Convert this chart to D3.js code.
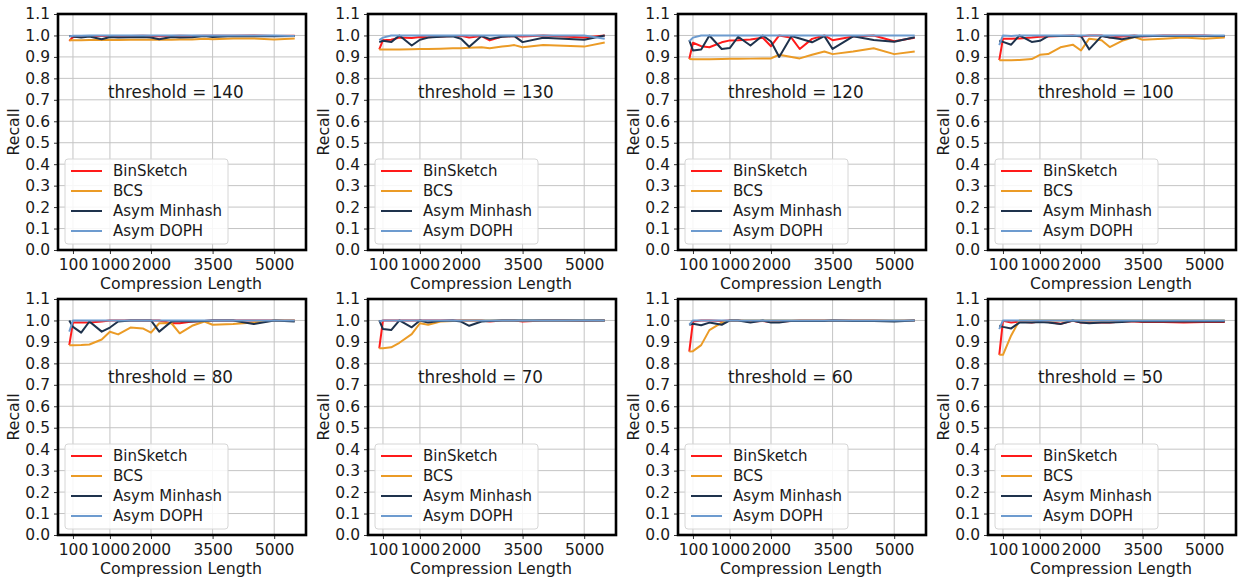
<!DOCTYPE html>
<html>
<head>
<meta charset="utf-8">
<script src="https://cdn.jsdelivr.net/npm/d3@7"></script>
<style>
  html, body { margin: 0; padding: 0; background: #fff; }
  svg { display: block; font-family: "DejaVu Sans", sans-serif; }
</style>
</head>
<body>
<svg id="chart" width="1249" height="579"></svg>
<script>
// Compression lengths sampled on the x axis
const compressionLengths = [10, 100, 300, 500, 800, 1000, 1200, 1500, 1800, 2000, 2200, 2500, 2700, 3000, 3300, 3500, 4000, 4500, 5000, 5500];
const xTickValues = [100, 1000, 2000, 3500, 5000];
const yTickValues = [0, 0.1, 0.2, 0.3, 0.4, 0.5, 0.6, 0.7, 0.8, 0.9, 1.0, 1.1];

// One panel per threshold
const thresholds = [140, 130, 120, 100, 80, 70, 60, 50];

const seriesNames = ["BinSketch", "BCS", "Asym Minhash", "Asym DOPH"];
const seriesColors = ["#ff1a1a", "#eb9b26", "#1e324c", "#6d9bcf"];

// Recall per threshold (rows follow `thresholds`)
const binSketch = [
  [0.975, 0.993, 0.995, 0.997, 0.997, 0.998, 0.996, 0.997, 0.999, 0.997, 0.996, 0.998, 0.999, 0.998, 0.999, 0.999, 0.999, 1.0, 0.998, 0.999],
  [0.935, 0.978, 0.98, 0.99, 0.988, 0.993, 0.992, 0.995, 0.997, 0.998, 0.99, 0.997, 0.977, 0.995, 0.997, 0.995, 1.0, 0.995, 0.99, 1.0],
  [0.89, 0.966, 0.95, 0.945, 0.968, 0.977, 0.978, 0.981, 0.989, 0.95, 1.0, 0.989, 0.937, 0.984, 1.0, 0.978, 0.995, 1.0, 0.973, 0.989],
  [0.885, 0.985, 0.985, 0.986, 0.99, 0.994, 0.995, 0.998, 1.0, 0.995, 1.0, 1.0, 0.99, 0.995, 1.0, 0.995, 1.0, 1.0, 1.0, 0.995],
  [0.885, 0.99, 0.99, 0.99, 0.995, 1.0, 1.0, 1.0, 1.0, 1.0, 1.0, 0.987, 0.987, 0.995, 0.998, 1.0, 1.0, 1.0, 1.0, 1.0],
  [0.87, 1.0, 1.0, 1.0, 1.0, 1.0, 1.0, 1.0, 1.0, 1.0, 1.0, 1.0, 0.995, 1.0, 1.0, 0.995, 1.0, 1.0, 0.997, 1.0],
  [0.855, 0.995, 1.0, 1.0, 0.998, 1.0, 1.0, 0.995, 0.998, 0.993, 0.995, 0.998, 1.0, 1.0, 1.0, 1.0, 1.0, 1.0, 0.998, 1.0],
  [0.84, 0.998, 0.99, 0.995, 0.99, 0.995, 0.993, 0.985, 0.998, 0.99, 0.99, 0.99, 0.99, 0.995, 0.995, 0.993, 0.993, 0.99, 0.993, 0.993]
];

const bcs = [
  [0.978, 0.978, 0.978, 0.979, 0.979, 0.98, 0.979, 0.98, 0.98, 0.98, 0.981, 0.98, 0.981, 0.981, 0.985, 0.982, 0.986, 0.986, 0.981, 0.986],
  [0.935, 0.935, 0.935, 0.935, 0.936, 0.937, 0.937, 0.938, 0.94, 0.94, 0.943, 0.945, 0.94, 0.948, 0.955, 0.945, 0.956, 0.952, 0.948, 0.967],
  [0.89, 0.889, 0.889, 0.889, 0.89, 0.891, 0.891, 0.892, 0.893, 0.893, 0.91, 0.9, 0.893, 0.91, 0.925, 0.913, 0.925, 0.94, 0.913, 0.925],
  [0.885, 0.885, 0.885, 0.886, 0.89, 0.91, 0.913, 0.945, 0.957, 0.93, 0.985, 0.978, 0.946, 0.975, 0.993, 0.98, 0.985, 0.99, 0.985, 0.99],
  [0.885, 0.885, 0.886, 0.888, 0.911, 0.947, 0.935, 0.967, 0.963, 0.943, 0.987, 0.987, 0.94, 0.975, 0.995, 0.98, 0.983, 0.99, 1.0, 1.0],
  [0.87, 0.87, 0.875, 0.896, 0.936, 0.987, 0.98, 0.995, 0.998, 1.0, 1.0, 1.0, 1.0, 1.0, 1.0, 1.0, 1.0, 1.0, 1.0, 1.0],
  [0.855, 0.857, 0.885, 0.955, 0.99, 1.0, 1.0, 1.0, 1.0, 1.0, 1.0, 1.0, 1.0, 1.0, 1.0, 1.0, 1.0, 1.0, 1.0, 1.0],
  [0.84, 0.84, 0.93, 1.0, 1.0, 1.0, 1.0, 1.0, 1.0, 1.0, 1.0, 1.0, 1.0, 1.0, 1.0, 1.0, 1.0, 1.0, 1.0, 1.0]
];

const asymMinhash = [
  [0.998, 0.995, 0.99, 0.995, 0.982, 0.993, 0.99, 0.992, 0.993, 0.99, 0.982, 0.993, 0.99, 0.992, 0.997, 0.993, 0.997, 0.996, 0.996, 0.998],
  [0.969, 0.975, 0.969, 1.0, 0.953, 0.98, 0.99, 0.994, 0.996, 0.985, 0.947, 0.997, 0.984, 0.994, 0.997, 0.969, 0.989, 0.985, 0.98, 1.0],
  [0.978, 0.93, 0.934, 1.0, 0.937, 0.942, 0.994, 0.953, 1.0, 0.972, 0.9, 0.997, 0.986, 0.968, 0.997, 0.937, 0.996, 0.979, 0.971, 0.992],
  [0.975, 0.97, 0.957, 1.0, 0.97, 0.975, 0.997, 0.997, 0.997, 0.997, 0.935, 0.997, 0.99, 0.982, 0.993, 0.997, 0.997, 0.997, 0.997, 0.997],
  [1.0, 0.97, 0.943, 0.995, 0.948, 0.967, 0.995, 1.0, 1.0, 1.0, 0.948, 0.995, 0.997, 0.995, 0.998, 1.0, 1.0, 0.983, 1.0, 0.995],
  [1.0, 0.96, 0.955, 1.0, 0.968, 1.0, 0.99, 0.998, 1.0, 0.995, 0.975, 0.995, 0.998, 1.0, 1.0, 1.0, 1.0, 1.0, 1.0, 1.0],
  [0.98, 0.985, 0.978, 0.99, 0.98, 1.0, 1.0, 0.99, 1.0, 0.99, 0.99, 0.998, 0.998, 0.998, 0.998, 1.0, 0.998, 0.998, 0.995, 1.0],
  [0.975, 0.97, 0.963, 0.99, 0.99, 0.993, 0.99, 0.983, 1.0, 0.99, 0.987, 0.99, 0.99, 0.993, 0.997, 0.995, 0.995, 0.995, 0.995, 0.995]
];

const asymDoph = [
  [0.995, 0.999, 0.999, 1.0, 1.0, 1.0, 1.0, 1.0, 1.0, 1.0, 1.0, 1.0, 1.0, 1.0, 1.0, 1.0, 1.0, 1.0, 1.0, 0.998],
  [0.978, 0.99, 1.0, 1.0, 1.0, 1.0, 1.0, 1.0, 1.0, 1.0, 1.0, 1.0, 1.0, 1.0, 1.0, 1.0, 1.0, 1.0, 1.0, 0.985],
  [0.973, 0.99, 1.0, 1.0, 1.0, 1.0, 1.0, 1.0, 1.0, 1.0, 1.0, 1.0, 1.0, 1.0, 1.0, 1.0, 1.0, 1.0, 1.0, 1.0],
  [0.955, 1.0, 0.998, 1.0, 1.0, 1.0, 1.0, 1.0, 1.0, 1.0, 1.0, 1.0, 1.0, 1.0, 1.0, 1.0, 1.0, 1.0, 1.0, 1.0],
  [0.948, 1.0, 1.0, 1.0, 1.0, 1.0, 1.0, 1.0, 1.0, 1.0, 1.0, 1.0, 1.0, 1.0, 1.0, 1.0, 1.0, 1.0, 1.0, 1.0],
  [0.995, 1.0, 1.0, 1.0, 1.0, 1.0, 1.0, 1.0, 1.0, 1.0, 1.0, 1.0, 1.0, 1.0, 1.0, 1.0, 1.0, 1.0, 1.0, 1.0],
  [0.98, 1.0, 1.0, 1.0, 1.0, 1.0, 1.0, 1.0, 1.0, 1.0, 1.0, 1.0, 1.0, 1.0, 1.0, 1.0, 1.0, 1.0, 1.0, 1.0],
  [0.96, 1.0, 1.0, 1.0, 1.0, 1.0, 1.0, 1.0, 1.0, 1.0, 1.0, 1.0, 1.0, 1.0, 1.0, 1.0, 1.0, 1.0, 1.0, 1.0]
];

const seriesData = [binSketch, bcs, asymMinhash, asymDoph];

// ---- layout ----
const panelW = 248, panelH = 236;
const originX = 58, originY = 14;
const stepX = 310, stepY = 285;
const textColor = "#1a1a1a";

const svg = d3.select("#chart");

// x domain padded by 5% on either side of the data range
const xMin = d3.min(compressionLengths), xMax = d3.max(compressionLengths);
const pad = (xMax - xMin) * 0.05;
const x = d3.scaleLinear().domain([xMin - pad, xMax + pad]).range([0, panelW]);
const y = d3.scaleLinear().domain([0, 1.1]).range([panelH, 0]);

thresholds.forEach((thr, pi) => {
  const col = pi % 4, row = Math.floor(pi / 4);
  const g = svg.append("g")
    .attr("transform", `translate(${originX + col * stepX},${originY + row * stepY})`);

  // grid
  g.append("g").selectAll("line").data(yTickValues).join("line")
    .attr("x1", 0).attr("x2", panelW)
    .attr("y1", d => y(d)).attr("y2", d => y(d))
    .attr("stroke", "#c4c4c4").attr("stroke-width", 1);
  g.append("g").selectAll("line").data(xTickValues).join("line")
    .attr("y1", 0).attr("y2", panelH)
    .attr("x1", d => x(d)).attr("x2", d => x(d))
    .attr("stroke", "#c4c4c4").attr("stroke-width", 1);

  // axes
  const xAxis = g.append("g").attr("transform", `translate(0,${panelH})`)
    .call(d3.axisBottom(x).tickValues(xTickValues).tickSize(4).tickPadding(4).tickFormat(d3.format("d")));
  const yAxis = g.append("g")
    .call(d3.axisLeft(y).tickValues(yTickValues).tickSize(4).tickPadding(4).tickFormat(d3.format(".1f")));
  [xAxis, yAxis].forEach(a => {
    a.select(".domain").remove();
    a.selectAll(".tick line").attr("stroke", "#333").attr("stroke-width", 1);
    a.selectAll(".tick text").attr("fill", textColor)
      .style("font-family", "DejaVu Sans").style("font-size", "15.5px");
  });
  xAxis.selectAll(".tick text").attr("dy", "0.78em");

  // axis labels
  g.append("text")
    .attr("x", panelW / 2 - 1).attr("y", panelH + 39)
    .attr("text-anchor", "middle").attr("fill", textColor)
    .style("font-size", "15.8px").text("Compression Length");
  g.append("text")
    .attr("transform", `translate(-39,${panelH / 2}) rotate(-90)`)
    .attr("text-anchor", "middle").attr("fill", textColor)
    .style("font-size", "15.8px").text("Recall");

  // series lines
  const line = d3.line()
    .x((d, i) => x(compressionLengths[i]))
    .y(d => y(d));
  seriesData.forEach((s, si) => {
    g.append("path")
      .datum(s[pi])
      .attr("fill", "none")
      .attr("stroke", seriesColors[si])
      .attr("stroke-width", 2)
      .attr("stroke-linejoin", "round")
      .attr("d", line);
  });

  // threshold annotation
  g.append("text")
    .attr("x", x(950)).attr("y", y(0.71))
    .attr("fill", textColor)
    .style("font-size", "16.8px")
    .text(`threshold = ${thr}`);

  // legend
  const leg = g.append("g").attr("transform", "translate(7,145)");
  leg.append("rect")
    .attr("width", 163).attr("height", 85)
    .attr("rx", 3).attr("ry", 3)
    .attr("fill", "#fff").attr("fill-opacity", 0.85)
    .attr("stroke", "#d6d6d6").attr("stroke-width", 1);
  const items = leg.selectAll("g.item").data(seriesNames).join("g")
    .attr("class", "item")
    .attr("transform", (d, i) => `translate(0,${12 + i * 20})`);
  items.append("line")
    .attr("x1", 6).attr("x2", 37)
    .attr("stroke", (d, i) => seriesColors[i]).attr("stroke-width", 2);
  items.append("text")
    .attr("x", 48).attr("dy", "0.35em")
    .attr("fill", textColor)
    .style("font-size", "15px")
    .text(d => d);

  // frame
  g.append("rect")
    .attr("width", panelW).attr("height", panelH)
    .attr("fill", "none").attr("stroke", "#000").attr("stroke-width", 2.6);
});
</script>
</body>
</html>
